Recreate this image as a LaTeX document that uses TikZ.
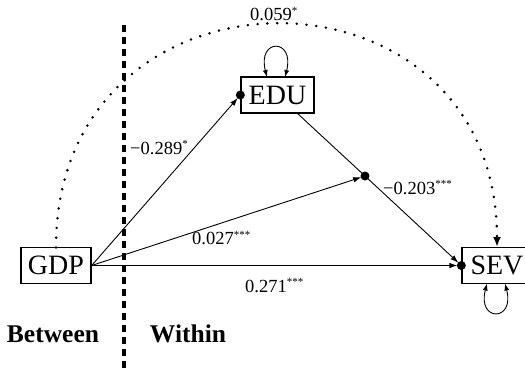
\documentclass[tikz,border=0pt]{standalone}
\usepackage{fontspec}
\setmainfont{Liberation Serif}
\usetikzlibrary{arrows.meta}
\tikzset{
  box/.style={draw, line width=1.3pt, inner sep=0pt, minimum height=36pt, font=\fontsize{28}{30}\selectfont},
  lab/.style={inner sep=0pt, anchor=base west, font=\fontsize{18.5}{20}\selectfont},
  grp/.style={inner sep=0pt, anchor=base, font=\fontsize{25.5}{28}\selectfont\bfseries},
  path/.style={line width=0.9pt, -{Latex[length=8pt,width=5.5pt]}, shorten >=4pt},
  loop/.style={line width=0.9pt, {Latex[length=7pt,width=5pt]}-{Latex[length=7pt,width=5pt]}},
  dotmark/.style={circle, fill=black, inner sep=0pt, minimum size=9pt},
  divider/.style={line width=3.2pt, dash pattern=on 7pt off 5pt},
  cov/.style={line width=2.8pt, line cap=round, dash pattern=on 0pt off 9.8pt, -{Latex[length=10pt,width=8pt]}}
}
\newcommand{\stars}[1]{\textsuperscript{\fontsize{11}{11}\selectfont #1}}
\begin{document}
\begin{tikzpicture}[x=1pt,y=-1pt]
\useasboundingbox (0,0) rectangle (525,368);
% divider
\coordinate (dtop) at (124,25);
\coordinate (dbot) at (124,370);
\draw[divider] (dtop) -- (dbot);
% nodes
\node[box, minimum width=70pt] (gdp) at (56,265.5) {GDP};
\node[box, minimum width=73pt] (edu) at (277.5,95) {EDU};
\node[box, minimum width=70pt] (sev) at (497,265.5) {SEV};
\coordinate (mid) at (365,176);
\coordinate (eduout) at (297,113);
\coordinate (gdptop) at (56,247.5);
\coordinate (sevtop) at (497,247);
% dots
\node[dotmark] (edudot) at (edu.west) {};
\node[dotmark] (sevdot) at (sev.west) {};
\node[dotmark] (middot) at (mid) {};
% paths
\draw[path] (gdp.east) -- (edudot.center);
\draw[path] (gdp.east) -- (middot.center);
\draw[path] (gdp.east) -- (sevdot.center);
\draw[line width=0.9pt] (eduout) -- (middot.center);
\draw[path] (middot.center) -- (sevdot.center);
% covariance
\draw[cov] (gdptop) .. controls (56,-50) and (497,-50) .. (sevtop);
% self loops
\coordinate (el1) at (267,77);
\coordinate (el2) at (285,77);
\draw[loop] (el1) .. controls (257,38) and (295,38) .. (el2);
\coordinate (sl1) at (487,283.5);
\coordinate (sl2) at (505,283.5);
\draw[loop] (sl1) .. controls (477,322) and (515,322) .. (sl2);
% labels
\node[lab] (l059) at (250,20.5) {0.059\stars{*}};
\node[lab] (l289) at (130,154) {−0.289\stars{*}};
\node[lab] (l027) at (192,244.5) {0.027\stars{***}};
\node[lab] (l203) at (383,194) {−0.203\stars{***}};
\node[lab] (l271) at (245,292) {0.271\stars{***}};
% groups
\node[grp] (between) at (53,342) {Between};
\node[grp] (within) at (188,342) {Within};
\end{tikzpicture}
\end{document}
